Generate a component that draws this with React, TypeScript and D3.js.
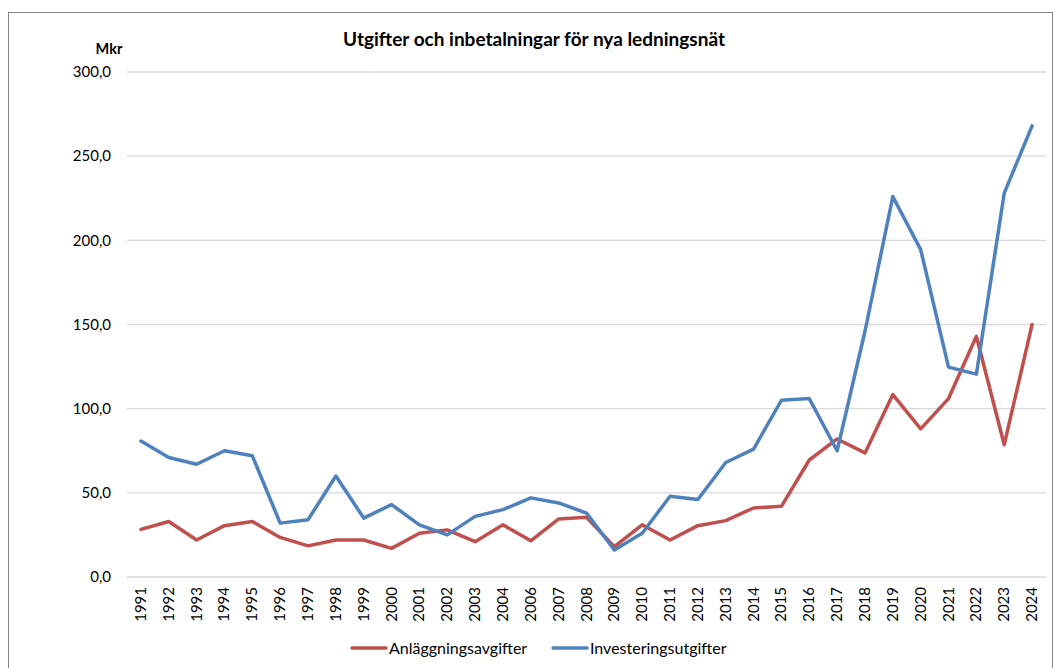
import React from "react";
import * as d3 from "d3";

const years = [
  "1991","1992","1993","1994","1995","1996","1997","1998","1999","2000",
  "2001","2002","2003","2004","2006","2007","2008","2009","2010","2011",
  "2012","2013","2014","2015","2016","2017","2018","2019","2020","2021",
  "2022","2023","2024",
];
const anlaggningsavgifter = [
  28.3, 33, 22, 30.5, 33, 23.5, 18.5, 22, 22, 17,
  26, 28, 21, 31, 21.5, 34.5, 35.5, 18, 31, 22,
  30.5, 33.5, 41, 42, 69.5, 82, 73.7, 108.4, 88, 106,
  143, 78.6, 150,
];
const investeringsutgifter = [
  80.8, 71, 67, 75, 72, 32, 34, 60, 35, 43,
  31, 25, 36, 40, 47, 44, 38, 16, 26, 48,
  46, 68, 76, 105, 106, 75, 146, 226, 194.5, 124.7,
  120.5, 228, 268,
];
const yTicks = [0, 50, 100, 150, 200, 250, 300];
const seriesNames = ["Anläggningsavgifter", "Investeringsutgifter"];
const seriesColors = ["#C0504D", "#4F81BD"];

const W = 1055;
const H = 668;
const FONT = "Lato, 'Open Sans', 'Liberation Sans', sans-serif";

export default function App() {
  const left = 127, right = 1046, top = 72, bottom = 577;
  const x = d3.scaleBand<string>().domain(years).range([left, right]);
  const y = d3.scaleLinear().domain([0, 300]).range([bottom, top]);
  const cx = (yr: string) => (x(yr) as number) + x.bandwidth() / 2;
  const line = d3
    .line<number>()
    .x((_, i) => cx(years[i]))
    .y((d) => y(d));
  const series = [anlaggningsavgifter, investeringsutgifter];
  const fmt = (v: number) => v.toFixed(1).replace(".", ",");

  return (
    <svg
      width={W}
      height={H}
      style={{ position: "absolute", left: 0, top: 0, background: "#fff" }}
      fontFamily={FONT}
    >
      <rect x={8.5} y={12.5} width={1044} height={660} fill="#fff" stroke="#868686" strokeWidth={1} />
      <text x={534} y={46} textAnchor="middle" fontSize={19} fontWeight="bold" fill="#000">
        Utgifter och inbetalningar för nya ledningsnät
      </text>
      <text x={109} y={54} textAnchor="middle" fontSize={14.5} fontWeight="bold" fill="#000">
        Mkr
      </text>
      {yTicks.map((t) => (
        <g key={t}>
          <line x1={left} x2={right} y1={y(t)} y2={y(t)} stroke="#D9D9D9" strokeWidth={1.3} />
          <text x={111} y={y(t)} dy="0.35em" textAnchor="end" fontSize={15} fill="#000">
            {fmt(t)}
          </text>
        </g>
      ))}
      {years.map((yr) => (
        <text
          key={yr}
          transform={`translate(${cx(yr) + 5},${587}) rotate(-90)`}
          textAnchor="end"
          fontSize={15}
          fill="#000"
        >
          {yr}
        </text>
      ))}
      {series.map((s, i) => (
        <path
          key={i}
          d={line(s) || ""}
          fill="none"
          stroke={seriesColors[i]}
          strokeWidth={3.5}
          strokeLinejoin="round"
          strokeLinecap="round"
        />
      ))}
      {seriesNames.map((n, i) => {
        const lx = i === 0 ? 352 : 553;
        return (
          <g key={n}>
            <line x1={lx} x2={lx + 34} y1={648} y2={648} stroke={seriesColors[i]} strokeWidth={3.5} strokeLinecap="round" />
            <text x={lx + 37} y={648} dy="0.35em" fontSize={16} fill="#000">
              {n}
            </text>
          </g>
        );
      })}
    </svg>
  );
}
